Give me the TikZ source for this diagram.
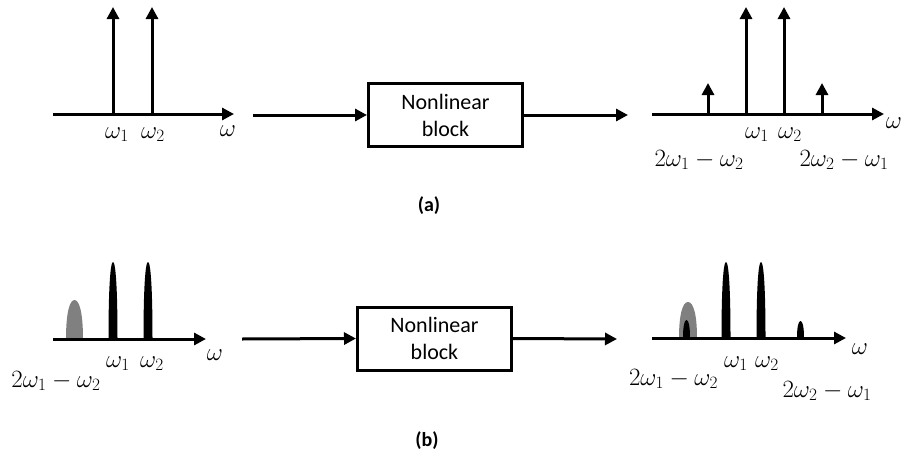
\documentclass[tikz,border=0pt]{standalone}
\usepackage{fontspec}
\setmainfont{Carlito}
\usetikzlibrary{arrows.meta}
\newcommand\mypeak[5]{%
  \fill[#5] ({#1-#2},#4) .. controls ({#1-#2},{#3+0.35*(#4-#3)}) and ({#1-0.6*#2},#3) .. (#1,#3)
     .. controls ({#1+0.6*#2},#3) and ({#1+#2},{#3+0.35*(#4-#3)}) .. ({#1+#2},#4) -- cycle;}
\begin{document}
\begin{tikzpicture}[x=1pt,y=-1pt,
  arr/.style={line width=3pt,-{Triangle[length=12pt,width=12pt]}},
  blockbox/.style={draw,line width=3pt,minimum width=154pt,minimum height=63pt,align=center,
    font=\fontsize{22}{27}\selectfont,inner sep=0pt},
  lbl/.style={anchor=base,font=\fontsize{23}{23}\selectfont,inner sep=0pt},
  captionlbl/.style={anchor=base,font=\bfseries\fontsize{20}{20}\selectfont,inner sep=0pt}]
\useasboundingbox (0,0) rectangle (904,455);

% ---------- (a) ----------
\coordinate (a1s) at (53,114); \coordinate (a1e) at (234,114);
\draw[arr] (a1s) -- (a1e);
\foreach \n/\x in {1/113,2/152}{
  \coordinate (a1b\n) at (\x,114); \coordinate (a1t\n) at (\x,7);
  \draw[arr] (a1b\n) -- (a1t\n);}
\node[lbl] (a1w1) at (117,138) {$\omega_1$};
\node[lbl] (a1w2) at (153,138) {$\omega_2$};
\node[lbl] (a1w) at (228,136) {$\omega$};

\node[blockbox] (blkA) at (445.5,115) {Nonlinear\\block};
\coordinate (inA) at (253,115); \coordinate (outA) at (628,115);
\draw[arr] (inA) -- (blkA.west);
\draw[arr] (blkA.east) -- (outA);

\coordinate (a2s) at (652,114); \coordinate (a2e) at (884,114);
\draw[arr] (a2s) -- (a2e);
\foreach \n/\x/\t in {1/708/83,2/746/7,3/784/7,4/822/83}{
  \coordinate (a2b\n) at (\x,114); \coordinate (a2t\n) at (\x,\t);
  \draw[arr] (a2b\n) -- (a2t\n);}
\node[lbl] (a2w1) at (757,138) {$\omega_1$};
\node[lbl] (a2w2) at (790,138) {$\omega_2$};
\node[lbl] (a2im1) at (699,166) {$2\omega_1-\omega_2$};
\node[lbl] (a2im2) at (844,166) {$2\omega_2-\omega_1$};
\node[lbl] (a2w) at (894,128) {$\omega$};

\node[captionlbl] (capA) at (429,211) {(a)};

% ---------- (b) ----------
\mypeak{74.5}{8.5}{300}{339}{black!50}
\mypeak{113}{4.5}{262}{339}{black}
\mypeak{148}{4.5}{262}{339}{black}
\coordinate (b1s) at (53,339); \coordinate (b1e) at (206,339);
\draw[arr] (b1s) -- (b1e);
\node[lbl] (b1w1) at (118,367) {$\omega_1$};
\node[lbl] (b1w2) at (152,367) {$\omega_2$};
\node[lbl] (b1w) at (215,360) {$\omega$};
\node[lbl] (b1im1) at (56,387) {$2\omega_1-\omega_2$};

\node[blockbox] (blkB) at (434.5,338.5) {Nonlinear\\block};
\coordinate (inB) at (242,339); \coordinate (outB) at (617,339);
\draw[arr] (inB) -- (blkB.west);
\draw[arr] (blkB.east) -- (outB);

\mypeak{688}{9}{302}{338}{black!50}
\mypeak{686.5}{3.5}{320}{338}{black}
\mypeak{726}{4.5}{262}{338}{black}
\mypeak{761}{4.5}{262}{338}{black}
\mypeak{800.5}{3.5}{321}{338}{black}
\coordinate (b2s) at (652,338); \coordinate (b2e) at (846,338);
\draw[arr] (b2s) -- (b2e);
\node[lbl] (b2w1) at (736,367) {$\omega_1$};
\node[lbl] (b2w2) at (767,367) {$\omega_2$};
\node[lbl] (b2im1) at (673.5,385) {$2\omega_1-\omega_2$};
\node[lbl] (b2im2) at (827,397) {$2\omega_2-\omega_1$};
\node[lbl] (b2w) at (860,354) {$\omega$};

\node[captionlbl] (capB) at (427,446) {(b)};
\end{tikzpicture}
\end{document}
